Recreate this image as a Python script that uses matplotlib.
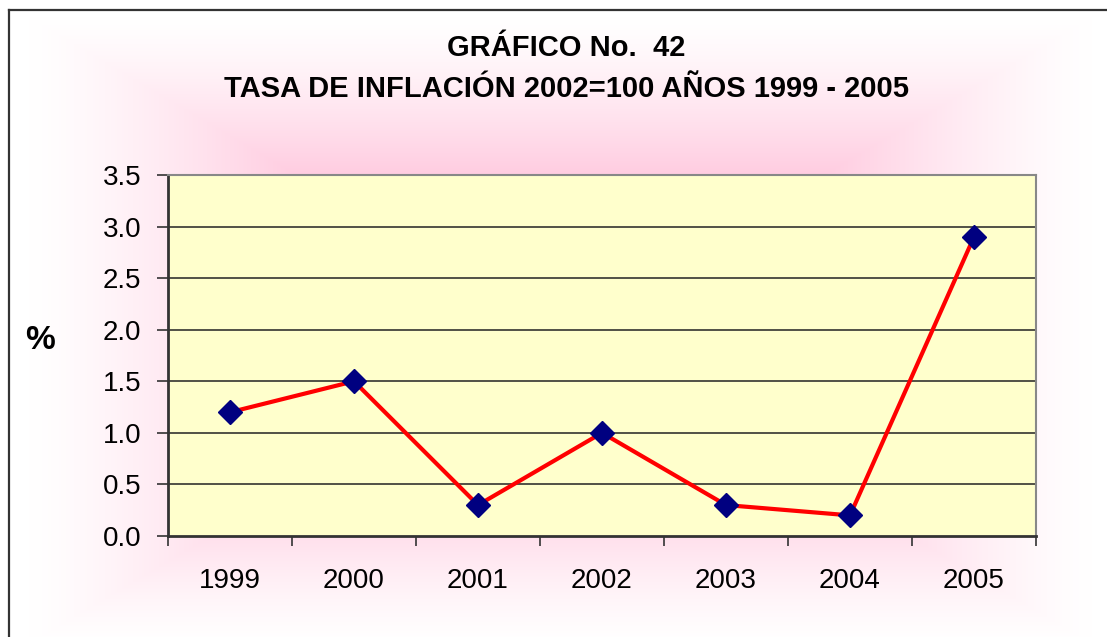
import numpy as np
import matplotlib
matplotlib.use('Agg')
import matplotlib.pyplot as plt

plt.rcParams['font.family'] = ['Liberation Sans', 'DejaVu Sans']

years = ['1999', '2000', '2001', '2002', '2003', '2004', '2005']
inflation = [1.2, 1.5, 0.3, 1.0, 0.3, 0.2, 2.9]
y_ticks = [0.0, 0.5, 1.0, 1.5, 2.0, 2.5, 3.0, 3.5]

W, H = 1107, 637
fig = plt.figure(figsize=(W / 100, H / 100), dpi=100)

# pink glow background (rectangular gradient from the centre)
bg = fig.add_axes([0, 0, 1, 1], zorder=-10)
bg.set_axis_off()
yy, xx = np.mgrid[0:H, 0:W]
cx, cy = 560.0, 330.0
t = np.maximum(np.abs(xx - cx) / 560.0, np.abs(yy - cy) / 330.0)
k = np.clip((0.95 - t) / 0.48, 0, 1) ** 1.3
pink = np.array([1.0, 0.80, 0.88])
img = 1 - k[..., None] * (1 - pink)
img[:9, :] = 1
img[:, :8] = 1
bg.imshow(img, extent=[0, W, H, 0], aspect='auto', interpolation='bilinear')
bg.set_xlim(0, W)
bg.set_ylim(H, 0)
bg.plot([8.5, 8.5], [H, 9.5], color='#333333', lw=1.6)
bg.plot([8.5, W], [9.5, 9.5], color='#333333', lw=1.6)

ax = fig.add_axes([168 / W, (H - 536) / H, (1036 - 168) / W, (536 - 175) / H])
ax.set_facecolor('#FFFFCC')
x = np.arange(len(years))
ax.plot(x, inflation, color='#FF0000', lw=3, marker='D', markersize=12,
        markerfacecolor='#000080', markeredgecolor='#000080', zorder=3)

ax.set_xlim(-0.5, 6.5)
ax.set_ylim(0, 3.5)
ax.set_yticks(y_ticks)
ax.set_yticklabels(['%.1f' % v for v in y_ticks], fontsize=20)
ax.set_xticks(np.arange(-0.5, 7, 1))
ax.set_xticklabels([])
ax.set_xticks(x, minor=True)
ax.set_xticklabels(years, minor=True, fontsize=20)
ax.tick_params(axis='x', which='major', length=7, width=1.2, color='#333333', direction='out')
ax.tick_params(axis='x', which='minor', length=0, pad=23)
ax.tick_params(axis='y', length=8, width=1.2, color='#333333', direction='out', pad=11)
for v in y_ticks[1:-1]:
    ax.axhline(v, color='#222222', lw=1.1, zorder=1)
ax.spines['left'].set_color('#333333')
ax.spines['left'].set_linewidth(2)
ax.spines['bottom'].set_color('#333333')
ax.spines['bottom'].set_linewidth(2)
ax.spines['top'].set_color('#888888')
ax.spines['top'].set_linewidth(1.5)
ax.spines['right'].set_color('#888888')
ax.spines['right'].set_linewidth(1.5)

fig.text(40 / W, 1 - 340 / H, '%', fontsize=24, fontweight='bold', ha='center', va='center')
fig.text(566 / W, 1 - 48 / H, 'GRÁFICO No.  42', fontsize=21, fontweight='bold', ha='center', va='center')
fig.text(566 / W, 1 - 89 / H, 'TASA DE INFLACIÓN 2002=100 AÑOS 1999 - 2005', fontsize=21,
         fontweight='bold', ha='center', va='center')

fig.savefig('out.png', dpi=100)
